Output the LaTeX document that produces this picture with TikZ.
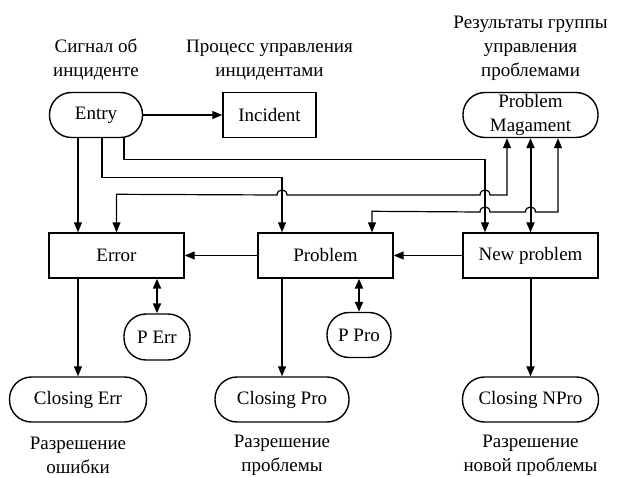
\documentclass[tikz,border=0pt]{standalone}
\usepackage{fontspec}
\setmainfont{Liberation Serif}
\usetikzlibrary{arrows.meta}

\begin{document}
\begin{tikzpicture}[x=1pt,y=-1pt,line width=1.2pt,
  >={Triangle[length=10pt,width=8pt]},
  every node/.style={font=\fontsize{19}{24}\selectfont},
  boxnode/.style={draw,line width=1.4pt,inner sep=0pt,minimum height=45pt,align=center},
  roundnode/.style={boxnode,rounded corners=22pt},
  textnode/.style={align=center}]
\useasboundingbox (0,0) rectangle (618,478);
% top row
\node[roundnode,minimum width=93pt] (entry) at (96,115) {Entry};
\node[boxnode,minimum width=93pt] (incident) at (269.5,115) {Incident};
\node[roundnode,minimum width=135pt] (pm) at (530.5,115) {Problem\\Magament};
% middle row
\node[boxnode,minimum width=135pt] (err) at (116.5,255.5) {Error};
\node[boxnode,minimum width=135pt] (prob) at (325.5,255.5) {Problem};
\node[boxnode,minimum width=135pt] (newp) at (530.5,255.5) {New problem};
\node[roundnode,minimum width=66pt,minimum height=46pt] (perr) at (157,337) {P Err};
\node[roundnode,minimum width=64pt] (ppro) at (359,335) {P Pro};
% bottom row
\node[roundnode,minimum width=137pt] (cerr) at (78,399.5) {Closing Err};
\node[roundnode,minimum width=134pt] (cpro) at (282,399.5) {Closing Pro};
\node[roundnode,minimum width=136pt] (cnpro) at (530.5,399.5) {Closing NPro};
% texts
\node[textnode] (tentry) at (96,60) {Сигнал об\\инциденте};
\node[textnode] (tincident) at (269.5,60) {Процесс управления\\инцидентами};
\node[textnode] (tpm) at (530.5,48) {Результаты группы\\управления\\проблемами};
\node[textnode] (tcerr) at (78,455) {Разрешение\\ошибки};
\node[textnode] (tcpro) at (282,455) {Разрешение\\проблемы};
\node[textnode] (tcnpro) at (530.5,455) {Разрешение\\новой проблемы};

\draw[->] (entry) -- (incident);
\draw[->] ([xshift=-18pt]entry.south) -- ([xshift=-38.5pt]err.north);
\draw[->] ([xshift=6pt]entry.south) -- ++(0,39) -| ([xshift=-43.5pt]prob.north);
\draw[->] ([xshift=28pt]entry.south) -- ++(0,21) -| ([xshift=-45.5pt]newp.north);
\draw[<->] (err.north) -- ++(0,-38) -- (277,195)
  .. controls (277,188.3) and (287,188.3) .. (287,195) -- (480,195)
  .. controls (480,188.3) and (490,188.3) .. (490,195) -| ([xshift=-23.5pt]pm.south);
\draw[<->] ([xshift=46.5pt]prob.north) -- ++(0,-21) -- (480,212)
  .. controls (480,205.3) and (490,205.3) .. (490,212) -- (525.5,212)
  .. controls (525.5,205.3) and (535.5,205.3) .. (535.5,212) -| ([xshift=27.5pt]pm.south);
\draw[<->,line width=2pt] (pm) -- (newp);
\draw[->] (newp) -- (prob);
\draw[->] (prob) -- (err);
\draw[<->,line width=2pt] ([xshift=40.5pt]err.south) -- (perr);
\draw[<->,line width=2pt] ([xshift=33.5pt]prob.south) -- (ppro);
\draw[->] ([xshift=-38.5pt]err.south) -- (cerr);
\draw[->] ([xshift=-43.5pt]prob.south) -- (cpro);
\draw[->,line width=2pt] (newp) -- (cnpro);
\end{tikzpicture}
\end{document}
